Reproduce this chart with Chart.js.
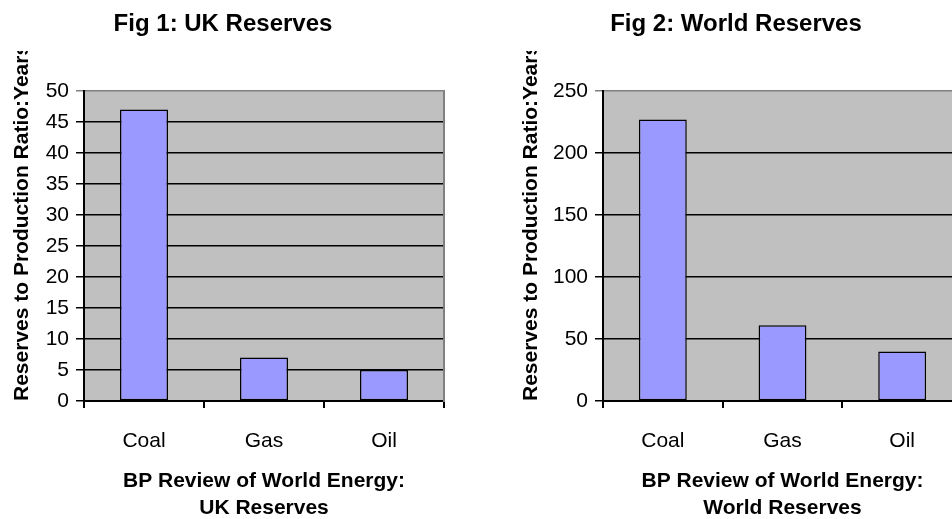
<!DOCTYPE html>
<html>
<head>
<meta charset="utf-8">
<script src="https://cdn.jsdelivr.net/npm/chart.js@4/dist/chart.umd.min.js"></script>
<style>
  html, body { margin: 0; padding: 0; background: #fff; overflow: hidden; width: 952px; height: 519px; }
  .wrap { position: absolute; top: 0; }
  canvas { display: block; }
</style>
</head>
<body>
<div class="wrap" style="left:0px;width:446px;height:519px;"><canvas id="c1" width="446" height="519"></canvas></div>
<div class="wrap" style="left:476px;width:520px;height:519px;"><canvas id="c2" width="520" height="519"></canvas></div>
<script>
// ---- data ----
const categories = ['Coal', 'Gas', 'Oil'];
const ukValues = [47, 7, 5];
const worldValues = [227, 61, 40];
const ukMax = 50, ukStep = 5;
const worldMax = 250, worldStep = 50;
const chartTitles = ['Fig 1: UK Reserves', 'Fig 2: World Reserves'];
const xTitles = [['BP Review of World Energy:', 'UK Reserves'], ['BP Review of World Energy:', 'World Reserves']];
const yTitle = 'Reserves to Production Ratio:Years';

Chart.defaults.font.family = '"Liberation Sans", Arial, sans-serif';
Chart.defaults.color = '#000';

const plotBg = {
  id: 'plotBg',
  beforeDraw(chart) {
    const a = chart.chartArea, ctx = chart.ctx;
    ctx.save();
    ctx.fillStyle = '#C0C0C0';
    ctx.fillRect(a.left, a.top, a.right - a.left, a.bottom - a.top);
    ctx.restore();
  }
};

const clipYTitle = {
  id: 'clipYTitle',
  afterLayout(chart, args, opts) {
    const s = chart.scales.y;
    if (s._clipPatched) return;
    const orig = s.drawTitle.bind(s);
    s.drawTitle = function () {
      const ctx = chart.ctx;
      ctx.save();
      ctx.beginPath();
      ctx.rect(0, opts.top, chart.width, chart.height - opts.top);
      ctx.clip();
      orig();
      ctx.restore();
    };
    s._clipPatched = true;
  }
};

function makeChart(id, values, max, step, title, xTitle, yWidth, yTitlePad, rightWidth) {
  return new Chart(document.getElementById(id), {
    type: 'bar',
    data: {
      labels: categories,
      datasets: [{
        data: values,
        backgroundColor: '#9999FF',
        borderColor: '#000',
        borderWidth: 1.5,
        borderSkipped: false,
        barPercentage: 0.4,
        categoryPercentage: 1.0,
        yAxisID: 'y'
      }]
    },
    options: {
      responsive: false,
      animation: false,
      devicePixelRatio: 1,
      layout: { padding: 0 },
      plugins: {
        legend: { display: false },
        tooltip: { enabled: false },
        title: {
          display: true,
          text: title,
          font: { size: 24, weight: 'bold', lineHeight: 1.2 },
          padding: { top: 9.6, bottom: 52.6 }
        },
        clipYTitle: { top: 51 }
      },
      scales: {
        x: {
          grid: { display: true, drawOnChartArea: false, drawTicks: true, tickLength: 7, color: '#000', lineWidth: 2, offset: true },
          border: { display: true, color: '#000', width: 2 },
          ticks: { font: { size: 21 }, padding: 21, color: '#000' },
          title: { display: true, text: xTitle, font: { size: 21, weight: 'bold', lineHeight: 1.25 }, padding: { top: 0, bottom: -2 }, color: '#000' },
          afterFit(scale) { scale.height = 118; }
        },
        y: {
          min: 0, max: max,
          ticks: { stepSize: step, font: { size: 21 }, padding: 7, color: '#000' },
          grid: {
            drawTicks: true, tickLength: 8, lineWidth: 1.5,
            color: (ctx) => (ctx.tick && ctx.tick.value === max) ? '#808080' : '#000'
          },
          border: { display: true, color: '#000', width: 2 },
          title: { display: true, text: yTitle, align: 'start', font: { size: 21, weight: 'bold', lineHeight: 1.2 }, padding: { top: yTitlePad, bottom: 0 }, color: '#000' },
          afterFit(scale) { scale.width = yWidth; }
        },
        yr: {
          type: 'linear', position: 'right', display: true,
          grid: { display: false, drawTicks: false },
          ticks: { display: false },
          border: { display: true, color: '#808080', width: 2 },
          afterFit(scale) { scale.width = rightWidth; }
        }
      }
    },
    plugins: [plotBg, clipYTitle]
  });
}

makeChart('c1', ukValues, ukMax, ukStep, chartTitles[0], xTitles[0], 84, 9.9, 2);
makeChart('c2', worldValues, worldMax, worldStep, chartTitles[1], xTitles[1], 127, 43.1, 34);
</script>
</body>
</html>
